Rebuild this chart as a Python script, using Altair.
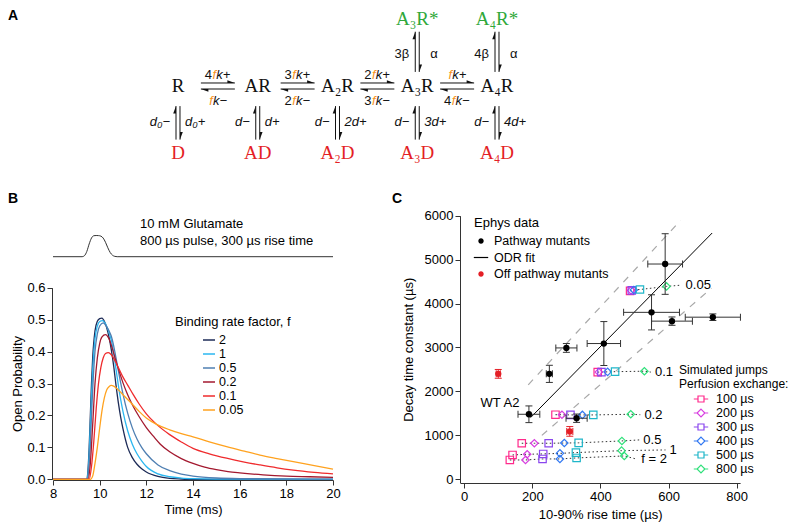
import altair as alt
import pandas as pd

# ======================= DATA =======================
# ---- Panel A : kinetic scheme ----
closed_states = ["R", "AR", "A₂R", "A₃R", "A₄R"]
desens_states = ["D", "AD", "A₂D", "A₃D", "A₄D"]
open_states = ["A₃R*", "A₄R*"]
open_cols = [3, 4]
fwd_prefix = ["4", "3", "2", ""]
bwd_prefix = ["", "2", "3", "4"]
desens_left = ["d₀−", "d−", "d−", "d−", "d−"]
desens_right = ["d₀+", "d+", "2d+", "3d+", "4d+"]
open_left = ["3β", "4β"]
open_right = ["α", "α"]

# ---- Panel B : glutamate pulse and open probability ----
pulse_t = [8, 9.25, 9.35, 9.45, 9.55, 9.65, 9.75, 9.85, 9.95, 10.05, 10.15, 10.25, 10.35, 10.45, 10.55, 10.65, 10.75, 20]
pulse_amp = [0, 0, 0.05, 0.25, 0.6, 0.88, 0.99, 1.0, 0.995, 0.97, 0.88, 0.68, 0.42, 0.2, 0.07, 0.015, 0, 0]
pulse_text = ["10 mM Glutamate", "800 µs pulse, 300 µs rise time"]

f_levels = ["2", "1", "0.5", "0.2", "0.1", "0.05"]
f_colors = ["#1d2b57", "#2bb7f0", "#4f7fb2", "#a3192f", "#ef2b2d", "#ffa21f"]

t_f2 = [8, 9.45, 9.5, 9.55, 9.6, 9.65, 9.7, 9.8, 9.9, 10.0, 10.1, 10.2, 10.3, 10.4, 10.5, 10.6, 10.7, 10.8, 10.9, 11.0, 11.2, 11.4, 11.6, 11.8, 12.0, 12.5, 13.0, 13.5, 14.0, 20]
p_f2 = [0, 0, 0.03, 0.1, 0.2, 0.3, 0.38, 0.465, 0.495, 0.503, 0.505, 0.495, 0.475, 0.445, 0.405, 0.355, 0.295, 0.24, 0.195, 0.158, 0.1, 0.068, 0.047, 0.033, 0.023, 0.009, 0.003, 0.001, 0, 0]
t_f1 = [8, 9.45, 9.5, 9.55, 9.6, 9.65, 9.7, 9.8, 9.9, 10.0, 10.12, 10.25, 10.4, 10.5, 10.6, 10.7, 10.8, 10.9, 11.0, 11.2, 11.4, 11.6, 11.8, 12.0, 12.5, 13.0, 13.5, 14.0, 15.0, 20]
p_f1 = [0, 0, 0.02, 0.08, 0.17, 0.26, 0.34, 0.44, 0.48, 0.494, 0.497, 0.487, 0.46, 0.435, 0.395, 0.345, 0.295, 0.25, 0.212, 0.152, 0.11, 0.08, 0.058, 0.04, 0.017, 0.008, 0.004, 0.002, 0.0005, 0]
t_f05 = [8, 9.47, 9.55, 9.6, 9.65, 9.7, 9.8, 9.9, 10.0, 10.15, 10.3, 10.4, 10.5, 10.6, 10.7, 10.8, 10.9, 11.0, 11.2, 11.4, 11.6, 11.8, 12.0, 12.5, 13.0, 13.5, 14.0, 15.0, 16.0, 18.0, 20]
p_f05 = [0, 0, 0.05, 0.11, 0.2, 0.28, 0.4, 0.455, 0.48, 0.49, 0.478, 0.465, 0.448, 0.418, 0.38, 0.34, 0.302, 0.267, 0.207, 0.161, 0.126, 0.1, 0.08, 0.045, 0.027, 0.016, 0.01, 0.004, 0.002, 0.001, 0.0005]
t_f02 = [8, 9.5, 9.6, 9.7, 9.8, 9.9, 10.0, 10.1, 10.25, 10.4, 10.5, 10.6, 10.7, 10.85, 11.0, 11.2, 11.44, 11.7, 12.0, 12.3, 12.6, 13.0, 13.5, 14.0, 14.5, 15.0, 15.5, 16.0, 17.0, 18.0, 19.0, 20.0]
p_f02 = [0, 0, 0.05, 0.17, 0.3, 0.38, 0.425, 0.446, 0.453, 0.44, 0.42, 0.395, 0.37, 0.335, 0.302, 0.265, 0.228, 0.195, 0.162, 0.135, 0.11, 0.086, 0.065, 0.05, 0.038, 0.03, 0.024, 0.02, 0.014, 0.01, 0.008, 0.006]
t_f01 = [8, 9.55, 9.65, 9.75, 9.85, 9.95, 10.05, 10.15, 10.25, 10.37, 10.5, 10.65, 10.8, 11.0, 11.2, 11.44, 11.7, 12.0, 12.44, 13.0, 13.5, 14.0, 14.7, 15.44, 16.2, 16.87, 17.6, 18.3, 19.2, 20.0]
p_f01 = [0, 0, 0.04, 0.12, 0.22, 0.3, 0.35, 0.38, 0.394, 0.397, 0.39, 0.372, 0.35, 0.32, 0.295, 0.265, 0.235, 0.205, 0.172, 0.14, 0.117, 0.097, 0.08, 0.066, 0.054, 0.045, 0.036, 0.029, 0.022, 0.017]
t_f005 = [8, 9.6, 9.7, 9.8, 9.9, 10.0, 10.1, 10.2, 10.3, 10.4, 10.5, 10.6, 10.8, 11.0, 11.2, 11.44, 11.7, 12.0, 12.44, 13.0, 13.5, 14.0, 14.7, 15.44, 16.2, 16.87, 17.6, 18.3, 19.2, 20.0]
p_f005 = [0, 0, 0.01, 0.05, 0.1, 0.16, 0.215, 0.255, 0.28, 0.29, 0.294, 0.292, 0.28, 0.265, 0.25, 0.232, 0.212, 0.192, 0.172, 0.155, 0.143, 0.133, 0.117, 0.102, 0.088, 0.076, 0.065, 0.055, 0.043, 0.032]

# ---- Panel C : decay vs rise ----
path_rise = [190, 330, 250, 300, 410, 550, 610, 730, 590]
path_rise_err = [32, 31, 9, 31, 49, 82, 60, 81, 51]
path_decay = [1480, 1390, 2400, 2990, 3090, 3800, 3600, 3690, 4900]
path_decay_err = [190, 95, 195, 100, 500, 400, 95, 75, 690]
off_rise = [100, 310]
off_rise_err = [6, 9]
off_decay = [2400, 1090]
off_decay_err = [100, 110]
odr_rise = [195, 728]
odr_decay = [1405, 5606]
band_upper_rise = [188, 635]
band_upper_decay = [2150, 5890]
band_lower_rise = [228, 726]
band_lower_decay = [1000, 4350]

f_groups = ["0.05", "0.1", "0.2", "0.5", "1", "2"]
group_labels = ["0.05", "0.1", "0.2", "0.5", "1", "f = 2"]
label_rise = [650, 560, 529, 526, 603, 520]
label_decay = [4420, 2440, 1470, 896, 668, 456]
exchange_times = ["100 µs", "200 µs", "300 µs", "400 µs", "500 µs", "800 µs"]
exchange_colors = ["#ff2a8c", "#d83ee0", "#8a46ee", "#3178f2", "#1fb6c9", "#2fe07a"]
sim_rise = {
    "0.05": [487, 490, 492, 498, 516, 594],
    "0.1": [392, 395, 403, 421, 443, 529],
    "0.2": [268, 287, 312, 347, 379, 489],
    "0.5": [169, 206, 248, 294, 336, 463],
    "1": [142, 185, 232, 281, 328, 462],
    "2": [134, 180, 230, 281, 330, 470],
}
sim_decay = {
    "0.05": [4290, 4300, 4300, 4310, 4320, 4390],
    "0.1": [2440, 2440, 2440, 2445, 2450, 2460],
    "0.2": [1470, 1470, 1465, 1465, 1465, 1480],
    "0.5": [820, 820, 820, 825, 830, 873],
    "1": [554, 570, 577, 590, 607, 652],
    "2": [440, 440, 463, 463, 486, 531],
}
ephys_kinds = ["Pathway mutants", "ODR fit", "Off pathway mutants"]

# ======================= STYLE =======================
FONT = "Liberation Sans"
SERIF = "Liberation Serif"
INK = "#111111"
RED = "#e41f26"
GREEN = "#2fa83a"
ORANGE = "#f7941d"
W, H = 784, 515
FS = 13


def lin(domain, rng):
    return alt.Scale(domain=domain, range=rng, nice=False, zero=False)


def axis(orient, offset, values, title, fmt, title_pad):
    return alt.Axis(orient=orient, offset=offset, values=values, title=title, format=fmt,
                    grid=False, domainColor="#333333", tickColor="#333333", labelColor="black",
                    titleColor="black", labelFont=FONT, titleFont=FONT, labelFontSize=FS,
                    titleFontSize=FS, titleFontWeight="normal", tickSize=5, labelPadding=2,
                    titlePadding=title_pad, labelFlush=False, labelOverlap=False)


def legend(title, x, y, title_size=FS, label_size=12.5, **kw):
    return alt.Legend(title=title, orient="none", legendX=x, legendY=y, direction="vertical",
                      titleFont=FONT, labelFont=FONT, titleFontSize=title_size,
                      labelFontSize=label_size, titleFontWeight="normal", titleColor="black",
                      labelColor="black", titleLimit=400, labelLimit=300, padding=0, **kw)


# ======================= PANEL A =======================
xA = lin([0, 4], [170, 489])
yA = lin([0, 2], [11, 145])
XA = alt.X("x:Q", scale=xA, axis=None)
YA = alt.Y("y:Q", scale=yA, axis=None)

nodes = pd.DataFrame(
    [dict(x=i, y=1, label=s, color=INK) for i, s in enumerate(closed_states)]
    + [dict(x=i, y=2, label=s, color=RED) for i, s in enumerate(desens_states)]
    + [dict(x=c, y=0, label=s, color=GREEN) for c, s in zip(open_cols, open_states)]
)

H_HALF, H_SEP, V_SEP = 0.213, 0.045, 0.025
HEAD_R = "M0,0L-2,-0.75L-2,0Z"
HEAD_L = "M0,0L2,0.75L2,0Z"
HEAD_U = "M0,0L-0.75,2L0,2Z"
HEAD_D = "M0,0L0.75,-2L0,-2Z"
shafts, heads = [], []
for i in range(4):
    m = i + 0.5
    shafts.append(dict(x=m - H_HALF, x2=m + H_HALF, y=1 - H_SEP, y2=1 - H_SEP))
    shafts.append(dict(x=m - H_HALF, x2=m + H_HALF, y=1 + H_SEP, y2=1 + H_SEP))
    heads.append(dict(x=m + H_HALF, y=1 - H_SEP, shape=HEAD_R))
    heads.append(dict(x=m - H_HALF, y=1 + H_SEP, shape=HEAD_L))


def vpair(c, top, bottom):
    shafts.append(dict(x=c - V_SEP, x2=c - V_SEP, y=top, y2=bottom))
    shafts.append(dict(x=c + V_SEP, x2=c + V_SEP, y=top, y2=bottom))
    heads.append(dict(x=c - V_SEP, y=top, shape=HEAD_U))
    heads.append(dict(x=c + V_SEP, y=bottom, shape=HEAD_D))


for c in range(5):
    vpair(c, 1.30, 1.80)
for c in open_cols:
    vpair(c, 0.19, 0.79)
shafts = pd.DataFrame(shafts)
heads = pd.DataFrame(heads)

rates = []
for i in range(4):
    m = i + 0.5
    for pre, suf, yy in ((fwd_prefix[i], "k+", 1 - 0.16), (bwd_prefix[i], "k−", 1 + 0.23)):
        rates.append(dict(x=m + (-0.044 if pre else -0.085), y=yy, pre=pre, f="f", suf=suf))
rates = pd.DataFrame(rates)

vd = pd.DataFrame(dict(x=list(range(5)), y=[1.53] * 5, left=desens_left, right=desens_right))
vo = pd.DataFrame(dict(x=open_cols, y=[0.52] * 2, left=open_left, right=open_right))

txt = dict(font=FONT, fontSize=FS, baseline="middle")
panelA = alt.layer(
    alt.Chart(shafts).mark_rule(color=INK, strokeWidth=1).encode(
        x=XA, x2="x2:Q", y=YA, y2="y2:Q"),
    alt.Chart(heads).mark_point(filled=True, size=56, opacity=1, color=INK, strokeWidth=0).encode(
        x=XA, y=YA, shape=alt.Shape("shape:N", scale=None)),
    alt.Chart(nodes).mark_text(font=SERIF, fontSize=19, baseline="middle").encode(
        x=XA, y=YA, text="label:N", color=alt.Color("color:N", scale=None)),
    alt.Chart(rates).mark_text(align="right", dx=-2.3, color=INK, **txt).encode(x=XA, y=YA, text="pre:N"),
    alt.Chart(rates).mark_text(align="center", fontStyle="italic", color=ORANGE, **txt).encode(
        x=XA, y=YA, text="f:N"),
    alt.Chart(rates).mark_text(align="left", dx=2, fontStyle="italic", color=INK, **txt).encode(
        x=XA, y=YA, text="suf:N"),
    alt.Chart(vd).mark_text(align="right", dx=-8, fontStyle="italic", color=INK, **txt).encode(
        x=XA, y=YA, text="left:N"),
    alt.Chart(vd).mark_text(align="left", dx=7, fontStyle="italic", color=INK, **txt).encode(
        x=XA, y=YA, text="right:N"),
    alt.Chart(vo).mark_text(align="right", dx=-8, color=INK, **txt).encode(x=XA, y=YA, text="left:N"),
    alt.Chart(vo).mark_text(align="left", dx=13, color=INK, **txt).encode(x=XA, y=YA, text="right:N"),
)

# ======================= PANEL B =======================
xB = lin([8, 20], [45, 325])
yB = lin([0, 0.6], [471.3, 279.7])
yP = lin([0, 1], [248.7, 227.5])

pulse = pd.DataFrame(dict(t=pulse_t, amp=pulse_amp))
pulse_lbl = pd.DataFrame(dict(t=[11.73, 11.73], amp=[1.52, 0.72], text=pulse_text))
pulse_group = alt.layer(
    alt.Chart(pulse).mark_line(color="#333333", strokeWidth=1, interpolate="monotone").encode(
        x=alt.X("t:Q", scale=xB, axis=None), y=alt.Y("amp:Q", scale=yP, axis=None)),
    alt.Chart(pulse_lbl).mark_text(align="left", color="black", **txt).encode(
        x=alt.X("t:Q", scale=xB, axis=None), y=alt.Y("amp:Q", scale=yP, axis=None), text="text:N"),
)

curve_t = [t_f2, t_f1, t_f05, t_f02, t_f01, t_f005]
curve_p = [p_f2, p_f1, p_f05, p_f02, p_f01, p_f005]
curves = pd.concat([pd.DataFrame(dict(f=lvl, t=tt, p=pp))
                    for lvl, tt, pp in zip(f_levels, curve_t, curve_p)], ignore_index=True)

panelB = alt.Chart(curves).mark_line(strokeWidth=1.3, interpolate="monotone").encode(
    x=alt.X("t:Q", scale=xB, axis=axis("bottom", -43, list(range(8, 21, 2)), "Time (ms)", "d", 3)),
    y=alt.Y("p:Q", scale=yB, axis=axis("left", -44, [0, 0.1, 0.2, 0.3, 0.4, 0.5, 0.6],
                                         "Open Probability", ".1f", 2)),
    color=alt.Color("f:N", scale=alt.Scale(domain=f_levels, range=f_colors),
                    legend=legend("Binding rate factor, f", 167, 308, symbolType="stroke",
                                  symbolSize=144, symbolStrokeWidth=1.5, symbolOffset=27,
                                  labelOffset=3, rowPadding=0, titlePadding=4)),
)

# ======================= PANEL C =======================
xC = lin([-12, 810], [452.1, 732.1])
yC = lin([-80, 6000], [474.8, 207.7])
XC = alt.X("rise:Q", scale=xC, axis=None)
YC = alt.Y("decay:Q", scale=yC, axis=None)

bands = pd.concat([
    pd.DataFrame(dict(band="upper", rise=band_upper_rise, decay=band_upper_decay)),
    pd.DataFrame(dict(band="lower", rise=band_lower_rise, decay=band_lower_decay)),
], ignore_index=True)
odr = pd.DataFrame(dict(rise=odr_rise, decay=odr_decay))

sim = pd.DataFrame([dict(f=g, exchange=ex, rise=sim_rise[g][j], decay=sim_decay[g][j], k=j)
                    for g in f_groups for j, ex in enumerate(exchange_times)])
ends = pd.DataFrame(dict(f=f_groups, exchange="end", rise=[r - 12 for r in label_rise],
                         decay=label_decay, k=6))
dotted = pd.concat([sim, ends], ignore_index=True)
labels = pd.DataFrame(dict(f=f_groups, rise=label_rise, decay=label_decay, text=group_labels))


def errorbars(rise, rise_err, decay, decay_err, color):
    d = pd.DataFrame(dict(rise=rise, re=rise_err, decay=decay, de=decay_err))
    d["xlo"], d["xhi"] = d.rise - d.re, d.rise + d.re
    d["ylo"], d["yhi"] = d.decay - d.de, d.decay + d.de
    xcaps = pd.concat([pd.DataFrame(dict(rise=d.xlo, decay=d.decay)),
                       pd.DataFrame(dict(rise=d.xhi, decay=d.decay))])
    ycaps = pd.concat([pd.DataFrame(dict(rise=d.rise, decay=d.ylo)),
                       pd.DataFrame(dict(rise=d.rise, decay=d.yhi))])
    return [
        alt.Chart(d).mark_rule(color=color, strokeWidth=1).encode(
            x=alt.X("xlo:Q", scale=xC, axis=None), x2="xhi:Q", y=YC),
        alt.Chart(d).mark_rule(color=color, strokeWidth=1).encode(
            x=XC, y=alt.Y("ylo:Q", scale=yC, axis=None), y2="yhi:Q"),
        alt.Chart(xcaps).mark_tick(orient="vertical", size=7, thickness=1, color=color, opacity=1).encode(
            x=XC, y=YC),
        alt.Chart(ycaps).mark_tick(orient="horizontal", size=7, thickness=1, color=color, opacity=1).encode(
            x=XC, y=YC),
    ]


path = pd.DataFrame(dict(rise=path_rise, decay=path_decay))
off = pd.DataFrame(dict(rise=off_rise, decay=off_decay))
wt = pd.DataFrame(dict(rise=[162], decay=[1732], text=["WT A2"]))

# dashed bounds carry the axes of panel C (own top-level layer so the axes are kept)
bands_axes = alt.Chart(bands).mark_line(color="#a8a8a8", strokeWidth=1.2, strokeDash=[7, 7]).encode(
    x=alt.X("rise:Q", scale=xC, axis=axis("bottom", -40, [0, 200, 400, 600, 800],
                                          "10-90% rise time (µs)", "d", 5)),
    y=alt.Y("decay:Q", scale=yC, axis=axis("left", -452, [0, 1000, 2000, 3000, 4000, 5000, 6000],
                                           "Decay time constant (µs)", "d", 9)),
    detail="band:N")

panelC = alt.layer(
    alt.Chart(odr).mark_line(color="black", strokeWidth=1).encode(x=XC, y=YC),
    alt.Chart(dotted).mark_line(color="#333333", strokeWidth=1, strokeDash=[1.5, 2.5]).encode(
        x=XC, y=YC, detail="f:N", order="k:Q"),
    alt.Chart(sim).mark_point(filled=False, size=55, strokeWidth=1.2, opacity=1).encode(
        x=XC, y=YC,
        color=alt.Color("exchange:N", scale=alt.Scale(domain=exchange_times, range=exchange_colors),
                        legend=None),
        shape=alt.Shape("exchange:N", scale=alt.Scale(
            domain=exchange_times, range=["square", "diamond", "square", "diamond", "square", "diamond"]),
            legend=None)),
    *errorbars(path_rise, path_rise_err, path_decay, path_decay_err, "#333333"),
    alt.Chart(path).mark_circle(size=40, color="black", opacity=1).encode(x=XC, y=YC),
    *errorbars(off_rise, off_rise_err, off_decay, off_decay_err, RED),
    alt.Chart(off).mark_circle(size=40, color=RED, opacity=1).encode(x=XC, y=YC),
    alt.Chart(labels).mark_text(align="left", color="black", **txt).encode(x=XC, y=YC, text="text:N"),
    alt.Chart(wt).mark_text(align="right", color="black", **txt).encode(x=XC, y=YC, text="text:N"),
)

# ---- legends for panel C (symbols only, entries come from the scale domains) ----
SQ = "M-1.2,0H-0.5M0.5,0H1.2M-0.5,-0.5H0.5V0.5H-0.5Z"
DM = "M-1.2,0H-0.65M0.65,0H1.2M0,-0.65L0.65,0L0,0.65L-0.65,0Z"
DOT = "M-0.45,0A0.45,0.45,0,1,0,0.45,0A0.45,0.45,0,1,0,-0.45,0Z"
BAR = "M-1.2,-0.1H1.2V0.1H-1.2Z"

sim_leg = legend(["Simulated jumps", "Perfusion exchange:"], 671, 357, title_size=12,
                 label_size=12.5, symbolSize=144, symbolStrokeWidth=1.2, symbolOffset=15,
                 labelOffset=8, rowPadding=0, titlePadding=1.5, titleLineHeight=13.5)
sim_legend = alt.Chart(pd.DataFrame(dict(exchange=exchange_times))).transform_filter(
    "false").mark_point(filled=False, size=144, strokeWidth=1.2, opacity=1).encode(
    x=alt.value(0), y=alt.value(0),
    color=alt.Color("exchange:N", scale=alt.Scale(domain=exchange_times, range=exchange_colors),
                    legend=sim_leg),
    shape=alt.Shape("exchange:N", scale=alt.Scale(domain=exchange_times,
                                                  range=[SQ, DM, SQ, DM, SQ, DM]), legend=sim_leg),
)

eph_leg = legend("Ephys data", 466, 209, symbolSize=144, symbolOffset=0, labelOffset=6,
                 rowPadding=2.5, titlePadding=4)
ephys_legend = alt.Chart(pd.DataFrame(dict(kind=ephys_kinds))).transform_filter(
    "false").mark_point(filled=True, size=144, opacity=1).encode(
    x=alt.value(0), y=alt.value(0),
    color=alt.Color("kind:N", scale=alt.Scale(domain=ephys_kinds, range=["black", "black", RED]),
                    legend=eph_leg),
    shape=alt.Shape("kind:N", scale=alt.Scale(domain=ephys_kinds, range=[DOT, BAR, DOT]),
                    legend=eph_leg),
)


def letter(ch, px, py):
    return alt.Chart(pd.DataFrame(dict(label=[ch]))).mark_text(
        font=FONT, fontSize=14, fontWeight="bold", align="left", baseline="top",
        color="black").encode(x=alt.value(px), y=alt.value(py), text="label:N")


chart = alt.layer(
    panelA, pulse_group, panelB, bands_axes, panelC, sim_legend, ephys_legend,
    letter("A", 0, 1), letter("B", 0, 184), letter("C", 384, 184),
).resolve_scale(
    x="independent", y="independent", color="independent", shape="independent"
).properties(
    width=W, height=H, padding=0, autosize=alt.AutoSizeParams(type="none")
).configure_view(stroke=None)

chart.save("out.html", embed_options={"renderer": "svg", "actions": False})
